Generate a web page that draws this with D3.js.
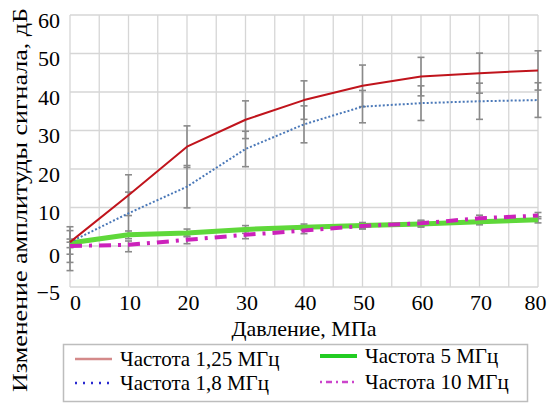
<!DOCTYPE html>
<html>
<head>
<meta charset="utf-8">
<script src="https://cdnjs.cloudflare.com/ajax/libs/d3/7.8.5/d3.min.js"></script>
<style>
	body { margin: 0; background: #fff; }
	svg text { font-family: "Liberation Serif", Tinos, "Times New Roman", "DejaVu Serif", serif; fill: #000; }
</style>
</head>
<body>
<svg id="chart" width="549" height="403"></svg>
<script>
// давление, МПа
var pressure = [0, 10, 20, 30, 40, 50, 60, 70, 80];
// изменение амплитуды, дБ, и погрешность
var f125 = [1.0, 13.2, 25.8, 32.8, 37.9, 41.6, 44.0, 44.9, 45.6];
var f125err = [4.0, 5.3, 5.4, 4.9, 5.0, 5.4, 5.0, 5.2, 5.1];
var f18 = [1.0, 8.5, 15.4, 25.2, 31.6, 36.2, 37.1, 37.6, 37.9];
var f18err = [3.0, 5.5, 5.5, 4.6, 4.8, 4.2, 4.5, 4.7, 4.5];
var f5 = [0.8, 2.9, 3.4, 4.3, 4.9, 5.3, 5.7, 6.3, 6.8];
var f5err = [1.0, 1.0, 1.0, 1.0, 0.8, 0.8, 0.8, 0.8, 0.8];
var f10 = [0.0, 0.3, 1.6, 2.9, 4.0, 5.2, 5.9, 7.2, 7.9];
var f10err = [1.0, 1.0, 1.0, 1.0, 0.8, 0.8, 0.8, 0.8, 0.8];

var xTicks = [0, 10, 20, 30, 40, 50, 60, 70, 80];
var xMinor = [5, 15, 25, 35, 45, 55, 65, 75];
var yTicks = [-5, 0, 10, 20, 30, 40, 50, 60];

var series = [
	{name: "Частота 1,25 МГц", values: f125, err: f125err, color: "#c0141c", width: 2, dash: null, legendColor: "#d48a8a"},
	{name: "Частота 1,8 МГц", values: f18, err: f18err, color: "#4a78b8", width: 2, dash: "2,2", legendColor: "#2a2ad0"},
	{name: "Частота 5 МГц", values: f5, err: f5err, color: "#5fd83a", width: 5, dash: null, legendColor: "#22cc22"},
	{name: "Частота 10 МГц", values: f10, err: f10err, color: "#cc22bb", width: 4, dash: "12,7,3,7", legendColor: "#cc44cc"}
];

var margin = {top: 15, right: 11, bottom: 116, left: 70};
var svg = d3.select("svg#chart");
var width = +svg.attr("width") - margin.left - margin.right;
var height = +svg.attr("height") - margin.top - margin.bottom;

var x = d3.scaleLinear().domain([0, 80]).range([0, width]);
// ось в оригинале неравномерная: отрезок от -5 до 0 растянут
var y = d3.scaleLinear().domain([-5, 0, 60]).range([height, height - 41, 0]);

var g = svg.append("g")
	.attr("transform", "translate(" + margin.left + "," + margin.top + ")");

// сетка
g.append("g").selectAll("line")
	.data(xMinor.concat(xTicks))
	.enter()
	.append("line")
	.attr("x1", function(d) { return x(d); })
	.attr("x2", function(d) { return x(d); })
	.attr("y1", 0)
	.attr("y2", height)
	.style("stroke", "#d6d6d6")
	.style("stroke-width", 1.3);

g.append("g").selectAll("line")
	.data(yTicks)
	.enter()
	.append("line")
	.attr("x1", 0)
	.attr("x2", width)
	.attr("y1", function(d) { return y(d); })
	.attr("y2", function(d) { return y(d); })
	.style("stroke", "#d6d6d6")
	.style("stroke-width", 1.3);

// подписи осей
var xAxis = d3.axisBottom(x).tickValues(xTicks).tickSize(0).tickPadding(0);
g.append("g")
	.attr("transform", "translate(0," + height + ")")
	.call(xAxis)
	.call(function(a) { a.select(".domain").remove(); })
	.selectAll("text")
	.attr("dy", "0")
	.attr("y", 23)
	.attr("dx", function(d) { return d === 0 ? 5 : (d === 80 ? -3 : 1); })
	.style("font-family", null)
	.style("font-size", "22px");

var yAxis = d3.axisLeft(y).tickValues(yTicks).tickSize(0).tickPadding(0);
g.append("g")
	.call(yAxis)
	.call(function(a) { a.select(".domain").remove(); a.attr("font-family", null); })
	.selectAll("text")
	.attr("x", -10)
	.attr("dy", function(d) { return d === 0 ? "0.75em" : "0.55em"; })
	.style("font-size", "22px");

// планки погрешностей
series.forEach(function(s) {
	var eb = g.append("g");
	pressure.forEach(function(p, i) {
		var y0 = y(s.values[i] - s.err[i]);
		var y1 = y(s.values[i] + s.err[i]);
		eb.append("line")
			.attr("x1", x(p)).attr("x2", x(p))
			.attr("y1", y0).attr("y2", y1)
			.style("stroke", "#8a8a8a").style("stroke-width", 1.6);
		[y0, y1].forEach(function(yy) {
			eb.append("line")
				.attr("x1", x(p) - 3.5).attr("x2", x(p) + 3.5)
				.attr("y1", yy).attr("y2", yy)
				.style("stroke", "#8a8a8a").style("stroke-width", 1.6);
		});
	});
});

// линии
var line = d3.line()
	.x(function(d, i) { return x(pressure[i]); })
	.y(function(d) { return y(d); });

[series[2], series[3], series[1], series[0]].forEach(function(s) {
	g.append("path")
		.datum(s.values)
		.attr("d", line)
		.style("fill", "none")
		.style("stroke", s.color)
		.style("stroke-width", s.width)
		.style("stroke-dasharray", s.dash)
		.style("stroke-linejoin", "round");
});

// заголовки осей
svg.append("text")
	.attr("x", margin.left + width / 2)
	.attr("y", 336)
	.attr("text-anchor", "middle")
	.style("font-size", "22px")
	.text("Давление, МПа");

svg.append("text")
	.attr("transform", "translate(27," + 200 + ") rotate(-90)")
	.attr("text-anchor", "middle")
	.attr("textLength", 384)
	.attr("lengthAdjust", "spacingAndGlyphs")
	.style("font-size", "22px")
	.text("Изменение амплитуды сигнала, дБ");

// легенда
var legend = svg.append("g");
legend.append("rect")
	.attr("x", 63.5).attr("y", 344.5)
	.attr("width", 464).attr("height", 57)
	.style("fill", "#fff")
	.style("stroke", "#bdbdbd")
	.style("stroke-width", 1.5);

var legendPos = [
	{x: 75, y: 359}, {x: 75, y: 383}, {x: 320, y: 356}, {x: 320, y: 382}
];
series.forEach(function(s, i) {
	var p = legendPos[i];
	legend.append("line")
		.attr("x1", p.x).attr("x2", p.x + 37)
		.attr("y1", p.y).attr("y2", p.y)
		.style("stroke", s.legendColor)
		.style("stroke-width", i === 2 ? 4 : 2.5)
		.style("stroke-dasharray", s.dash ? (i === 1 ? "2,6" : "2,4,6,4") : null);
	legend.append("text")
		.attr("x", p.x + 45)
		.attr("y", p.y + 7)
		.style("font-size", "21px")
		.text(s.name);
});
</script>
</body>
</html>
